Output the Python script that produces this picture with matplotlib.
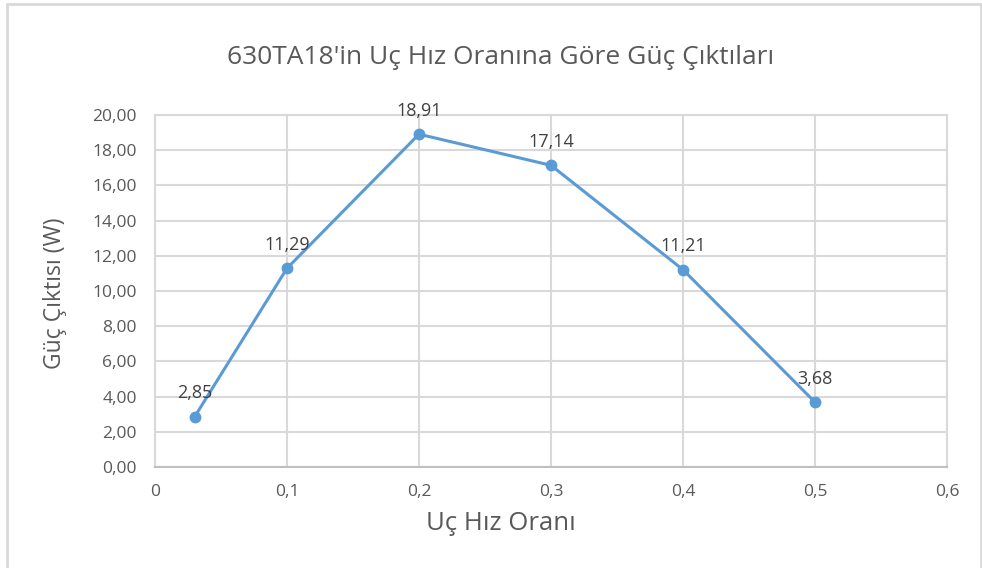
import matplotlib
matplotlib.use("Agg")
import matplotlib.pyplot as plt
from matplotlib.patches import Rectangle
from matplotlib.ticker import FixedLocator

plt.rcParams['font.family'] = ['Open Sans', 'DejaVu Sans']

# Tip speed ratio vs power output
tsr = [0.03, 0.1, 0.2, 0.3, 0.4, 0.5]
power = [2.85, 11.29, 18.91, 17.14, 11.21, 3.68]

x_ticks = [0, 0.1, 0.2, 0.3, 0.4, 0.5, 0.6]
x_tick_labels = ["0", "0,1", "0,2", "0,3", "0,4", "0,5", "0,6"]
y_ticks = [0, 2, 4, 6, 8, 10, 12, 14, 16, 18, 20]

title = "630TA18'in Uç Hız Oranına Göre Güç Çıktıları"
xlabel = "Uç Hız Oranı"
ylabel = "Güç Çıktısı (W)"

W, H = 982, 568
fig = plt.figure(figsize=(W / 100, H / 100), dpi=100)
fig.patch.set_facecolor("white")

# chart-area frame
fig.patches.append(Rectangle((7 / W, -0.05), (981 - 7) / W, (H - 4) / H + 0.05,
                             transform=fig.transFigure, fill=False,
                             edgecolor="#d9d9d9", linewidth=2, zorder=0))

ax = fig.add_axes([155 / W, (H - 467) / H, (947 - 155) / W, (467 - 115) / H])
ax.set_xlim(0, 0.6)
ax.set_ylim(0, 20)

grid_c = "#d9d9d9"
ax.xaxis.set_major_locator(FixedLocator(x_ticks))
ax.set_xticklabels(x_tick_labels)
ax.set_yticks(y_ticks)
ax.set_yticklabels([f"{v:.2f}".replace(".", ",") for v in y_ticks])
ax.grid(True, color=grid_c, linewidth=1.5)
ax.set_axisbelow(True)
for s in ax.spines.values():
    s.set_color(grid_c)
    s.set_linewidth(1.5)
ax.spines["bottom"].set_color("#bfbfbf")
ax.tick_params(length=0, colors="#595959", labelsize=12.5)
ax.tick_params(axis="x", pad=12)
ax.tick_params(axis="y", pad=13)

ax.plot(tsr, power, color="#5B9BD5", linewidth=2.2, marker="o",
        markersize=7.5, zorder=3, clip_on=False)

for x, y in zip(tsr, power):
    ax.annotate(f"{y:.2f}".replace(".", ","), (x, y), xytext=(0, 17),
                textcoords="offset points", ha="center", va="center",
                color="#404040", fontsize=13)

fig.text(501 / W, (H - 57) / H, title, ha="center", va="center",
         fontsize=19, color="#595959")
fig.text(501 / W, (H - 524) / H, xlabel, ha="center", va="center",
         fontsize=18.5, color="#595959")
fig.text(55 / W, (H - 293) / H, ylabel, ha="center", va="center",
         rotation=90, fontsize=16.5, color="#595959")

fig.savefig("out.png", dpi=100, facecolor="white")
